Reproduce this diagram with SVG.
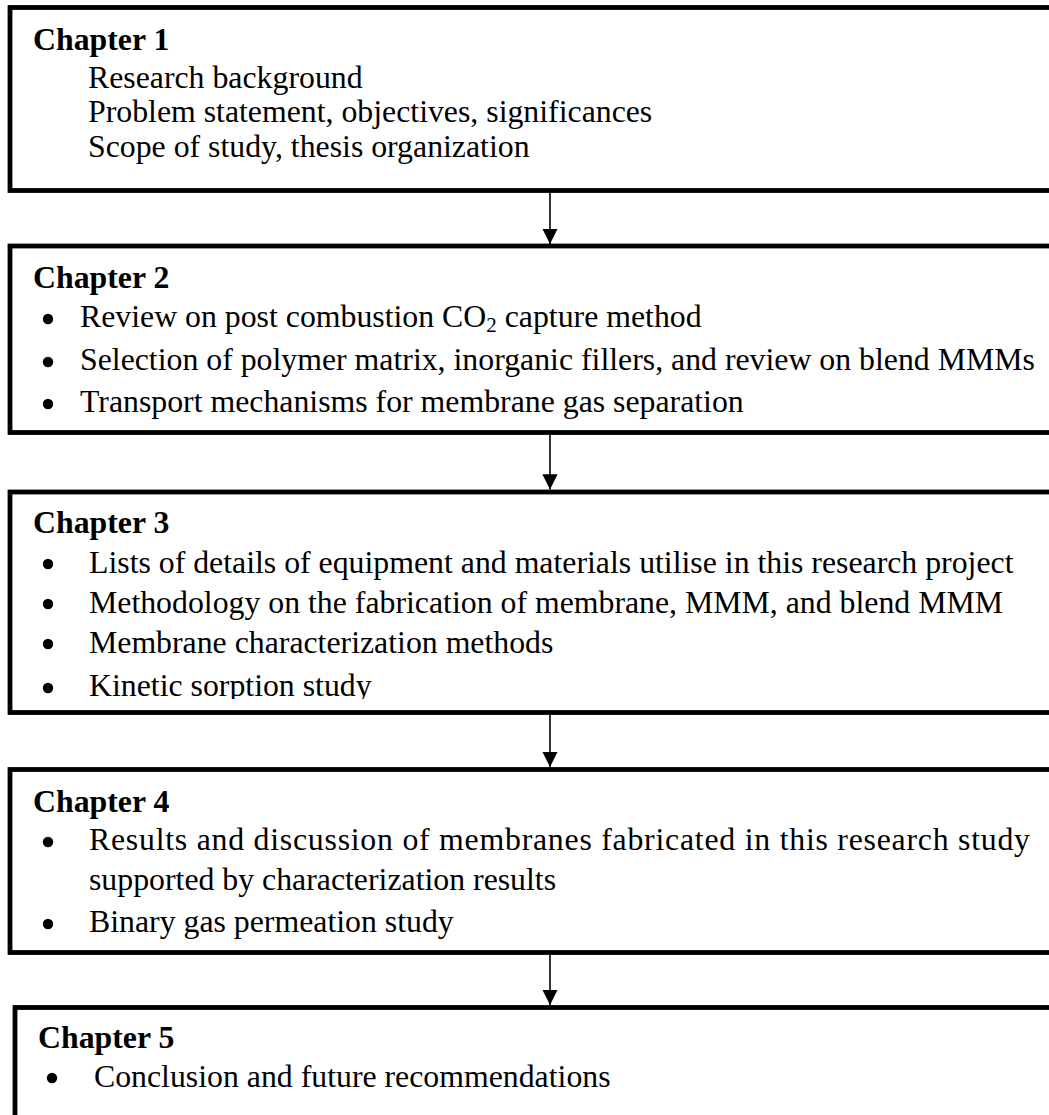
<svg xmlns="http://www.w3.org/2000/svg" width="1049" height="1115" viewBox="0 0 1049 1115">
<defs>
<style>
.box{fill:#fff;stroke:#000;stroke-width:4.8}
text{font-family:"Liberation Serif","Times New Roman",serif;font-size:31.8px;fill:#000}
.h{font-weight:bold}
.dot{fill:#000}
.con{stroke:#000;stroke-width:1.6;fill:none}
</style>
<marker id="ah" viewBox="0 0 10 10" refX="10" refY="5" markerWidth="9.5" markerHeight="9.5" markerUnits="strokeWidth" orient="auto">
<path d="M0,0 L10,5 L0,10 z" fill="#000"/>
</marker>
<clipPath id="c3"><rect x="0" y="492" width="1049" height="207"/></clipPath>
</defs>
<rect width="1049" height="1115" fill="#fff"/>
<g id="chapter1">
<rect class="box" x="10" y="7.5" width="1060" height="183"/>
<text class="h" x="33" y="50">Chapter 1</text>
<text x="88" y="88">Research background</text>
<text x="88" y="122">Problem statement, objectives, significances</text>
<text x="88" y="157">Scope of study, thesis organization</text>
</g>
<g id="chapter2">
<rect class="box" x="10" y="246" width="1060" height="186.5"/>
<text class="h" x="33" y="288">Chapter 2</text>
<circle class="dot" cx="48" cy="319" r="5.2"/>
<text x="80" y="327">Review on post combustion CO<tspan font-size="21" dy="5">2</tspan><tspan dy="-5"> capture method</tspan></text>
<circle class="dot" cx="48" cy="362" r="5.2"/>
<text x="80" y="370">Selection of polymer matrix, inorganic fillers, and review on blend MMMs</text>
<circle class="dot" cx="48" cy="404" r="5.2"/>
<text x="80" y="412">Transport mechanisms for membrane gas separation</text>
</g>
<g id="chapter3">
<rect class="box" x="10" y="492" width="1060" height="220.5"/>
<text class="h" x="33" y="533">Chapter 3</text>
<circle class="dot" cx="48" cy="564" r="5.2"/>
<text x="89" y="573">Lists of details of equipment and materials utilise in this research project</text>
<circle class="dot" cx="48" cy="604" r="5.2"/>
<text x="89" y="613">Methodology on the fabrication of membrane, MMM, and blend MMM</text>
<circle class="dot" cx="48" cy="644" r="5.2"/>
<text x="89" y="653">Membrane characterization methods</text>
<g clip-path="url(#c3)">
<circle class="dot" cx="48" cy="688" r="5.2"/>
<text x="89" y="696">Kinetic sorption study</text>
</g>
</g>
<g id="chapter4">
<rect class="box" x="10" y="769.5" width="1060" height="183"/>
<text class="h" x="33" y="812">Chapter 4</text>
<circle class="dot" cx="48" cy="842" r="5.2"/>
<text x="89" y="850" textLength="941" lengthAdjust="spacing">Results and discussion of membranes fabricated in this research study</text>
<text x="89" y="890">supported by characterization results</text>
<circle class="dot" cx="48" cy="924" r="5.2"/>
<text x="89" y="932">Binary gas permeation study</text>
</g>
<g id="chapter5">
<rect class="box" x="15" y="1007.5" width="1060" height="140"/>
<text class="h" x="38" y="1048">Chapter 5</text>
<circle class="dot" cx="52" cy="1078" r="5.2"/>
<text x="94" y="1087">Conclusion and future recommendations</text>
</g>
<g id="connectors">
<line class="con" x1="550" y1="193" x2="550" y2="244" marker-end="url(#ah)"/>
<line class="con" x1="550" y1="435" x2="550" y2="489.5" marker-end="url(#ah)"/>
<line class="con" x1="550" y1="715" x2="550" y2="767" marker-end="url(#ah)"/>
<line class="con" x1="550" y1="955" x2="550" y2="1005" marker-end="url(#ah)"/>
</g>
</svg>
